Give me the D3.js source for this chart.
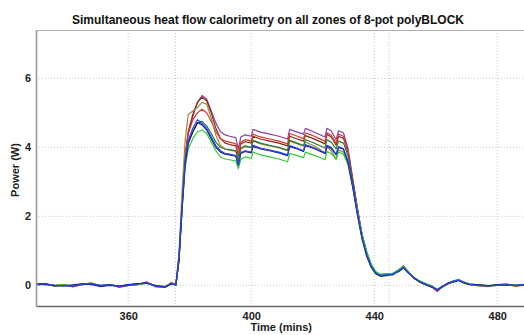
<!DOCTYPE html>
<html>
<head>
<meta charset="utf-8">
<script src="https://cdn.jsdelivr.net/npm/d3@7"></script>
<style>
  body { margin: 0; background: #fff; }
  text { font-family: "Liberation Sans", Arial, sans-serif; }
</style>
</head>
<body>
<svg id="chart"></svg>
<script>
// time axis (mins), shared by all zones
let times = [
  330, 333, 336, 339, 342, 345, 348, 351, 354, 357, 360, 363, 366, 369, 372,
  374, 375.5, 376.5, 377.5, 378.5, 379.5, 381, 382.5, 384, 385.5, 387, 388.5, 390, 391.5, 393, 395,
  395.8, 396.6, 398, 400, 400.6, 403, 406, 409, 411.8, 412.5, 415, 417, 417.6, 420, 422, 424, 424.6, 426, 427.6, 428.4, 430,
  431.5, 433, 434.5, 436, 437.5, 439, 440.5, 442,
  444, 446, 448, 449.5, 451, 453, 455, 457, 459, 460.5, 462, 464, 466, 467.5, 469, 471, 474, 477, 480, 483, 486, 489
];

let zone1 = [ // purple
  0.02, 0.03, -0.01, 0.01, -0.03, 0.02, 0.04, -0.02, 0.01, -0.03, 0.00, 0.02, 0.06, -0.03, -0.05,
  0.05, 0.01, 0.78, 2.30, 3.70, 4.40, 4.90, 5.30, 5.50, 5.40, 5.05, 4.70, 4.45, 4.36, 4.32, 4.28,
  3.95, 4.30, 4.36, 4.32, 4.52, 4.44, 4.38, 4.32, 4.24, 4.52, 4.44, 4.38, 4.55, 4.46, 4.38, 4.30, 4.55, 4.48, 4.22, 4.48, 4.42,
  3.95, 3.10, 2.25, 1.50, 0.96, 0.59, 0.38, 0.30,
  0.32, 0.33, 0.44, 0.53, 0.39, 0.20, 0.10, 0.03, -0.05, -0.14, -0.05, 0.06, 0.13, 0.15, 0.08, 0.03, 0.01, -0.02, 0.01, 0.02, -0.01, 0.02
];
let zone2 = [ // brown
  0.03, 0.04, 0.00, -0.01, -0.02, 0.03, 0.05, -0.02, 0.02, -0.03, 0.01, 0.03, 0.07, -0.02, -0.04,
  0.06, 0.02, 0.80, 2.35, 3.75, 4.45, 4.95, 5.30, 5.45, 5.35, 5.00, 4.55, 4.25, 4.12, 4.08, 4.04,
  3.75, 4.10, 4.16, 4.12, 4.32, 4.24, 4.18, 4.12, 4.04, 4.32, 4.24, 4.18, 4.34, 4.26, 4.18, 4.10, 4.38, 4.30, 4.06, 4.32, 4.26,
  3.85, 3.05, 2.22, 1.48, 0.95, 0.58, 0.37, 0.30,
  0.32, 0.31, 0.43, 0.53, 0.38, 0.20, 0.10, 0.02, -0.05, -0.14, -0.05, 0.05, 0.12, 0.15, 0.08, 0.03, 0.00, -0.02, 0.00, 0.02, -0.01, 0.02
];
let zone3 = [ // red
  0.01, 0.06, -0.03, 0.02, -0.05, 0.02, 0.07, -0.04, 0.03, -0.06, -0.01, 0.02, 0.10, -0.05, -0.04,
  0.08, 0.03, 0.85, 2.40, 3.75, 4.40, 4.80, 5.00, 5.10, 5.00, 4.75, 4.45, 4.25, 4.18, 4.15, 4.10,
  3.80, 4.15, 4.22, 4.18, 4.38, 4.30, 4.24, 4.18, 4.10, 4.40, 4.32, 4.25, 4.42, 4.34, 4.26, 4.18, 4.42, 4.35, 4.12, 4.38, 4.32,
  3.90, 3.05, 2.20, 1.45, 0.92, 0.56, 0.36, 0.29,
  0.31, 0.33, 0.44, 0.55, 0.39, 0.19, 0.09, 0.01, -0.07, -0.18, -0.06, 0.04, 0.11, 0.16, 0.10, 0.02, -0.02, -0.04, 0.02, 0.04, -0.03, 0.01
];
let zone4 = [ // olive
  0.02, 0.04, -0.02, 0.00, -0.02, 0.03, 0.05, -0.01, 0.02, -0.03, 0.01, 0.03, 0.07, -0.02, -0.04,
  0.05, 0.02, 0.95, 2.70, 4.20, 4.95, 5.05, 5.15, 5.30, 5.25, 4.85, 4.35, 4.05, 3.95, 3.92, 3.88,
  3.60, 3.95, 4.02, 3.98, 4.18, 4.10, 4.04, 3.98, 3.90, 4.18, 4.10, 4.04, 4.15, 4.06, 3.96, 3.82, 4.00, 3.90, 3.66, 3.92, 3.86,
  3.50, 2.85, 2.10, 1.42, 0.92, 0.56, 0.36, 0.29,
  0.31, 0.32, 0.43, 0.54, 0.38, 0.20, 0.10, 0.02, -0.05, -0.14, -0.05, 0.05, 0.12, 0.15, 0.08, 0.03, 0.00, -0.02, 0.00, 0.02, -0.01, 0.02
];
let zone5 = [ // dark green
  0.03, 0.04, -0.01, 0.01, -0.02, 0.04, 0.06, 0.00, 0.01, -0.03, 0.01, 0.04, 0.07, -0.02, -0.05,
  0.06, 0.01, 0.75, 2.25, 3.55, 4.15, 4.45, 4.70, 4.75, 4.62, 4.40, 4.15, 4.00, 3.95, 3.93, 3.90,
  3.62, 3.98, 4.04, 4.00, 4.20, 4.12, 4.06, 4.00, 3.92, 4.20, 4.12, 4.05, 4.22, 4.14, 4.06, 3.98, 4.22, 4.15, 3.95, 4.18, 4.12,
  3.75, 3.00, 2.20, 1.45, 0.95, 0.58, 0.38, 0.30,
  0.33, 0.35, 0.45, 0.56, 0.40, 0.21, 0.11, 0.03, -0.04, -0.13, -0.04, 0.07, 0.14, 0.16, 0.09, 0.04, 0.01, -0.02, 0.01, 0.02, 0.00, 0.03
];
let zone6 = [ // green
  0.00, 0.03, -0.01, 0.02, -0.02, 0.02, 0.04, 0.00, 0.01, -0.03, 0.01, 0.02, 0.06, -0.02, -0.05,
  0.04, 0.01, 0.75, 2.20, 3.40, 3.95, 4.25, 4.45, 4.50, 4.40, 4.15, 3.90, 3.72, 3.66, 3.64, 3.60,
  3.38, 3.65, 3.72, 3.68, 3.86, 3.78, 3.72, 3.66, 3.58, 3.82, 3.76, 3.70, 3.86, 3.78, 3.72, 3.64, 3.88, 3.82, 3.66, 3.86, 3.80,
  3.50, 2.85, 2.15, 1.50, 1.00, 0.62, 0.40, 0.32,
  0.34, 0.34, 0.44, 0.54, 0.40, 0.22, 0.12, 0.04, -0.03, -0.12, -0.03, 0.06, 0.13, 0.17, 0.09, 0.04, 0.01, -0.01, 0.01, 0.03, 0.00, 0.02
];
let zone7 = [ // navy
  0.04, 0.02, 0.00, -0.02, 0.01, 0.04, 0.02, -0.03, 0.00, -0.02, 0.02, 0.05, 0.06, -0.01, -0.04,
  0.03, 0.02, 0.70, 2.20, 3.50, 4.10, 4.45, 4.72, 4.65, 4.50, 4.25, 4.00, 3.86, 3.80, 3.78, 3.74,
  3.48, 3.82, 3.88, 3.84, 4.02, 3.95, 3.90, 3.84, 3.76, 4.02, 3.95, 3.88, 4.05, 3.98, 3.90, 3.82, 4.03, 3.97, 3.78, 4.00, 3.94,
  3.55, 2.85, 2.05, 1.35, 0.85, 0.52, 0.33, 0.26,
  0.28, 0.32, 0.40, 0.50, 0.36, 0.22, 0.08, 0.00, -0.06, -0.13, -0.04, 0.06, 0.10, 0.14, 0.07, 0.02, 0.01, -0.01, 0.01, 0.01, 0.00, 0.01
];
let zone8 = [ // blue
  0.02, 0.05, -0.02, 0.00, -0.03, 0.03, 0.05, -0.01, 0.02, -0.04, 0.00, 0.03, 0.08, -0.03, -0.06,
  0.05, 0.00, 0.80, 2.30, 3.60, 4.20, 4.55, 4.80, 4.70, 4.55, 4.30, 4.05, 3.90, 3.82, 3.80, 3.76,
  3.50, 3.85, 3.90, 3.86, 4.06, 3.98, 3.92, 3.86, 3.78, 4.05, 3.97, 3.90, 4.08, 4.00, 3.92, 3.84, 4.06, 4.00, 3.80, 4.02, 3.96,
  3.60, 2.90, 2.10, 1.40, 0.90, 0.55, 0.35, 0.28,
  0.30, 0.30, 0.42, 0.52, 0.38, 0.20, 0.10, 0.02, -0.05, -0.15, -0.05, 0.05, 0.12, 0.15, 0.08, 0.03, 0.00, -0.02, 0.00, 0.02, -0.01, 0.02
];

let zones = [zone1, zone2, zone3, zone4, zone5, zone6, zone7, zone8];
let colors = ["#8e3fa8", "#8b2a10", "#e3342c", "#a08a34", "#2a7a3a", "#2ecc2e", "#141c82", "#2b3fe6"];

let xTicks = [360, 400, 440, 480];
let yTicks = [0, 2, 4, 6];
let markers = [375.3, 444.8]; // green event lines

let w = 524, h = 335;
let mLeft = 36, mTop = 30, mBottom = 306;

let svg = d3.select("#chart").attr("width", w).attr("height", h);

let x = d3.scaleLinear().domain([330, 490]).range([mLeft, 528]);
let y = d3.scaleLinear().domain([-0.6, 7.4]).range([mBottom, mTop]);

// grid
svg.append("g")
  .selectAll("line")
  .data(yTicks)
  .enter().append("line")
  .attr("x1", mLeft).attr("x2", w)
  .attr("y1", d => y(d)).attr("y2", d => y(d))
  .attr("stroke", "#c8c8c8")
  .attr("stroke-dasharray", "1,2");

svg.append("g")
  .selectAll("line")
  .data(xTicks)
  .enter().append("line")
  .attr("x1", d => x(d)).attr("x2", d => x(d))
  .attr("y1", mTop).attr("y2", mBottom)
  .attr("stroke", "#c8c8c8")
  .attr("stroke-dasharray", "1,2");

svg.append("g")
  .selectAll("line")
  .data(markers)
  .enter().append("line")
  .attr("x1", d => x(d)).attr("x2", d => x(d))
  .attr("y1", mTop).attr("y2", mBottom)
  .attr("stroke", "#9fd39f")
  .attr("stroke-dasharray", "1,2");

// frame
svg.append("line")
  .attr("x1", mLeft).attr("x2", w).attr("y1", mTop + 0.5).attr("y2", mTop + 0.5)
  .attr("stroke", "#b0b0b0");

// zones
let line = d3.line()
  .x(d => x(d[0]))
  .y(d => y(d[1]))
  .curve(d3.curveLinear);

zones.forEach(function(z, i) {
  svg.append("path")
    .datum(d3.zip(times, z))
    .attr("fill", "none")
    .attr("stroke", colors[i])
    .attr("stroke-width", 1.2)
    .attr("stroke-linejoin", "round")
    .attr("d", line);
});

// axes
let xAxis = svg.append("g")
  .attr("transform", "translate(0," + mBottom + ")")
  .call(d3.axisBottom(x).tickValues(xTicks).tickSize(0).tickPadding(6));
xAxis.select(".domain").attr("stroke", "#6a6a6a").attr("stroke-width", 1.6);

let yAxis = svg.append("g")
  .attr("transform", "translate(" + mLeft + ",0)")
  .call(d3.axisLeft(y).tickValues(yTicks).tickSize(0).tickPadding(5));
yAxis.select(".domain").attr("stroke", "#9a9a9a").attr("stroke-width", 1.6);

svg.selectAll(".tick text")
  .attr("font-size", 11)
  .attr("font-weight", "bold")
  .attr("font-family", "Liberation Sans, Arial, sans-serif")
  .attr("fill", "#222");

// titles
svg.append("text")
  .attr("x", 268).attr("y", 24)
  .attr("text-anchor", "middle")
  .attr("font-size", 12)
  .attr("font-weight", "bold")
  .attr("fill", "#111")
  .text("Simultaneous heat flow calorimetry on all zones of 8-pot polyBLOCK");

svg.append("text")
  .attr("x", x(400) + 30).attr("y", 331)
  .attr("text-anchor", "middle")
  .attr("font-size", 11)
  .attr("font-weight", "bold")
  .attr("fill", "#222")
  .text("Time (mins)");

svg.append("text")
  .attr("transform", "translate(19," + 170 + ") rotate(-90)")
  .attr("text-anchor", "middle")
  .attr("font-size", 11)
  .attr("font-weight", "bold")
  .attr("fill", "#222")
  .text("Power (W)");
</script>
</body>
</html>
